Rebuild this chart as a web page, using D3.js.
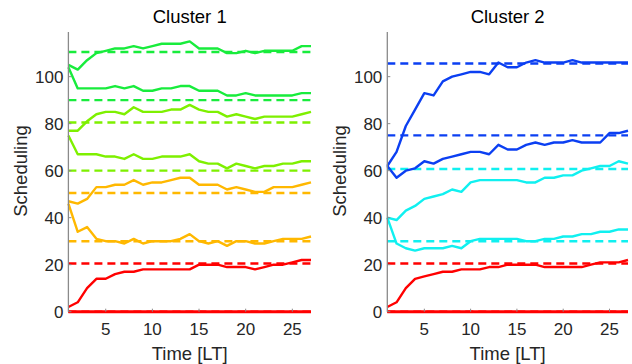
<!DOCTYPE html>
<html>
<head>
<meta charset="utf-8">
<script src="https://cdn.jsdelivr.net/npm/d3@7"></script>
<style>
  body { margin: 0; background: #fff; }
  svg { display: block; font-family: "Liberation Sans", Arial, sans-serif; }
</style>
</head>
<body>
<svg></svg>
<script>
// time steps [LT]
const times = [1, 2, 3, 4, 5, 6, 7, 8, 9, 10, 11, 12, 13, 14, 15, 16, 17, 18, 19, 20, 21, 22, 23, 24, 25, 26, 27];
const xTicks = [5, 10, 15, 20, 25];
const yTicks = [0, 20, 40, 60, 80, 100];

// cluster 1 series
const c1Green1 = [105, 103, 107, 110, 111, 112, 112, 113, 112, 113, 114, 114, 114, 115, 112, 112, 112, 110, 110, 111, 110, 111, 111, 111, 111, 113, 113];
const c1Green2 = [104, 95, 95, 95, 95, 96, 95, 96, 94, 94, 95, 95, 96, 96, 94, 94, 94, 92, 92, 93, 92, 92, 92, 92, 92, 93, 93];
const c1Lime1 = [77, 77, 81, 84, 85, 85, 84, 87, 85, 85, 85, 86, 86, 88, 86, 85, 85, 83, 84, 83, 82, 83, 83, 83, 83, 84, 85];
const c1Lime2 = [75, 67, 67, 67, 66, 66, 65, 67, 65, 65, 66, 66, 66, 67, 64, 63, 63, 61, 63, 62, 61, 62, 62, 63, 63, 64, 64];
const c1Orange1 = [47, 46, 48, 53, 53, 54, 54, 56, 54, 55, 55, 56, 57, 57, 54, 54, 54, 52, 53, 52, 51, 51, 53, 53, 53, 54, 55];
const c1Orange2 = [46, 34, 36, 31, 30, 30, 29, 31, 29, 30, 30, 30, 31, 33, 30, 29, 30, 28, 30, 30, 29, 29, 30, 31, 31, 31, 32];
const c1Red1 = [2, 4, 10, 14, 14, 16, 17, 17, 18, 18, 18, 18, 18, 18, 20, 20, 20, 19, 19, 19, 18, 19, 20, 20, 21, 22, 22];
const c1Red2 = [0, 0, 0, 0, 0, 0, 0, 0, 0, 0, 0, 0, 0, 0, 0, 0, 0, 0, 0, 0, 0, 0, 0, 0, 0, 0, 0];
const c1Levels = [110.5, 90, 80.5, 60, 50.5, 30, 20.5, 0];

// cluster 2 series
const c2Blue1 = [62, 68, 79, 86, 93, 92, 98, 100, 101, 102, 102, 101, 106, 104, 104, 106, 107, 106, 106, 106, 107, 106, 106, 106, 106, 106, 106];
const c2Blue2 = [62, 57, 60, 61, 64, 63, 65, 66, 67, 68, 68, 67, 71, 69, 69, 71, 72, 71, 72, 72, 73, 72, 72, 72, 76, 76, 77];
const c2Cyan1 = [40, 39, 43, 45, 48, 49, 50, 52, 51, 55, 56, 56, 56, 56, 56, 55, 55, 57, 57, 58, 58, 60, 61, 62, 62, 64, 63];
const c2Cyan2 = [40, 29, 27, 26, 27, 27, 27, 28, 27, 30, 31, 31, 31, 31, 31, 30, 30, 31, 31, 32, 32, 33, 33, 34, 34, 35, 35];
const c2Red1 = [2, 4, 10, 14, 15, 16, 17, 17, 18, 18, 18, 19, 19, 20, 20, 20, 20, 19, 19, 19, 19, 19, 20, 21, 21, 21, 22];
const c2Red2 = [0, 0, 0, 0, 0, 0, 0, 0, 0, 0, 0, 0, 0, 0, 0, 0, 0, 0, 0, 0, 0, 0, 0, 0, 0, 0, 0];
const c2Levels = [105.6, 75, 60.7, 30, 20.5, 0];

const green = "#18ec3c", lime = "#7ef000", orange = "#ffb800", red = "#ff0000";
const blue = "#0b3ff2", cyan = "#10f0f0";

const panels = [
  {
    title: "Cluster 1", left: 68.4, right: 311,
    series: [c1Green1, c1Green2, c1Lime1, c1Lime2, c1Orange1, c1Orange2, c1Red1, c1Red2],
    colors: [green, green, lime, lime, orange, orange, red, red],
    levels: c1Levels,
    levelColors: [green, green, lime, lime, orange, orange, red, red]
  },
  {
    title: "Cluster 2", left: 387.3, right: 628,
    series: [c2Blue1, c2Blue2, c2Cyan1, c2Cyan2, c2Red1, c2Red2],
    colors: [blue, blue, cyan, cyan, red, red],
    levels: c2Levels,
    levelColors: [blue, blue, cyan, cyan, red, red]
  }
];

const svg = d3.select("svg").attr("width", 632).attr("height", 364);

const yScale = d3.scaleLinear().domain([0, 119]).range([311.7, 32]);

panels.forEach((p) => {
  const xScale = d3.scaleLinear().domain([1, 27]).range([p.left, p.right]);
  const g = svg.append("g");

  // dashed target levels
  g.selectAll("line.level")
    .data(p.levels)
    .enter()
    .append("line")
    .attr("class", "level")
    .attr("x1", xScale(1))
    .attr("x2", xScale(27))
    .attr("y1", (d) => yScale(d))
    .attr("y2", (d) => yScale(d))
    .attr("stroke", (d, i) => p.levelColors[i])
    .attr("stroke-width", 2.4)
    .attr("stroke-dasharray", "8,5");

  // solid series
  const line = d3.line()
    .x((d, i) => xScale(times[i]))
    .y((d) => yScale(d));

  g.selectAll("path.series")
    .data(p.series)
    .enter()
    .append("path")
    .attr("class", "series")
    .attr("d", (d) => line(d))
    .attr("fill", "none")
    .attr("stroke", (d, i) => p.colors[i])
    .attr("stroke-width", (d, i) => (i === p.series.length - 1 ? 3 : 2.4))
    .attr("stroke-linejoin", "round");

  // y axis line
  g.append("line")
    .attr("x1", p.left).attr("x2", p.left)
    .attr("y1", yScale(119)).attr("y2", yScale(0))
    .attr("stroke", "#8a8a8a").attr("stroke-width", 1.3);

  // y ticks + labels
  g.selectAll("line.ytick")
    .data(yTicks)
    .enter()
    .append("line")
    .attr("x1", p.left).attr("x2", p.left + 3)
    .attr("y1", (d) => yScale(d)).attr("y2", (d) => yScale(d))
    .attr("stroke", "#8a8a8a");
  g.selectAll("text.ylab")
    .data(yTicks)
    .enter()
    .append("text")
    .attr("x", p.left - 5)
    .attr("y", (d) => yScale(d) + 6)
    .attr("text-anchor", "end")
    .attr("font-size", 17)
    .attr("fill", "#262626")
    .text((d) => d);

  // x ticks + labels
  g.selectAll("line.xtick")
    .data(xTicks)
    .enter()
    .append("line")
    .attr("x1", (d) => xScale(d)).attr("x2", (d) => xScale(d))
    .attr("y1", yScale(0)).attr("y2", yScale(0) - 3)
    .attr("stroke", "#8a8a8a");
  g.selectAll("text.xlab")
    .data(xTicks)
    .enter()
    .append("text")
    .attr("x", (d) => xScale(d))
    .attr("y", 335)
    .attr("text-anchor", "middle")
    .attr("font-size", 17)
    .attr("fill", "#262626")
    .text((d) => d);

  // title and axis labels
  const cx = (p.left + p.right) / 2;
  g.append("text")
    .attr("x", cx).attr("y", 23)
    .attr("text-anchor", "middle")
    .attr("font-size", 18.5)
    .attr("fill", "#000")
    .text(p.title);
  g.append("text")
    .attr("x", cx).attr("y", 360)
    .attr("text-anchor", "middle")
    .attr("font-size", 18.5)
    .attr("fill", "#262626")
    .text("Time [LT]");
  g.append("text")
    .attr("transform", `translate(${p.left - 41}, 171) rotate(-90)`)
    .attr("text-anchor", "middle")
    .attr("font-size", 18.5)
    .attr("fill", "#262626")
    .text("Scheduling");
});
</script>
</body>
</html>
